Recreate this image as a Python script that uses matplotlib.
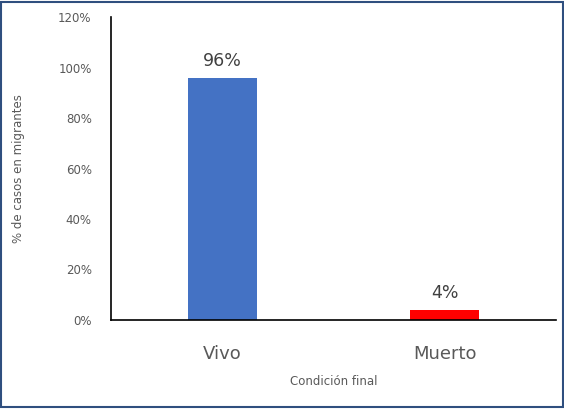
import matplotlib.pyplot as plt
from matplotlib.patches import Rectangle

# data
categories = ['Vivo', 'Muerto']
values = [96, 4]
bar_colors = ['#4472C4', '#FF0000']
value_labels = ['96%', '4%']
y_ticks = [0, 20, 40, 60, 80, 100, 120]

fig = plt.figure(figsize=(5.64, 4.09), dpi=100)
ax = fig.add_axes([0.197, 0.218, 0.789, 0.740])

x = range(len(categories))
ax.bar(x, values, width=0.31, color=bar_colors, zorder=2)

for xi, v, lab in zip(x, values, value_labels):
    ax.text(xi, v + 3, lab, ha='center', va='bottom', fontsize=12.5, color='#404040')

ax.set_xlim(-0.5, 1.5)
ax.set_ylim(0, 120)
ax.set_xticks(list(x))
ax.set_xticklabels(categories, fontsize=13, color='#595959')
ax.set_yticks(y_ticks)
ax.set_yticklabels([f'{t}%' for t in y_ticks], fontsize=8.5, color='#595959')
ax.tick_params(length=0)
ax.tick_params(axis='x', pad=18)
ax.tick_params(axis='y', pad=14)

for s in ['top', 'right']:
    ax.spines[s].set_visible(False)
ax.spines['left'].set_color('black')
ax.spines['bottom'].set_color('black')
ax.spines['left'].set_linewidth(1.2)
ax.spines['bottom'].set_linewidth(1.2)

ax.set_xlabel('Condición final', fontsize=8.5, color='#595959', labelpad=9)
ax.set_ylabel('% de casos en migrantes', fontsize=8.5, color='#595959', labelpad=24)

# outer frame of the chart area
fig.patches.append(Rectangle((0.002, 0.004), 0.996, 0.992, transform=fig.transFigure,
                             fill=False, edgecolor='#2F4F7F', linewidth=1.5))

fig.savefig('out.png', dpi=100)
